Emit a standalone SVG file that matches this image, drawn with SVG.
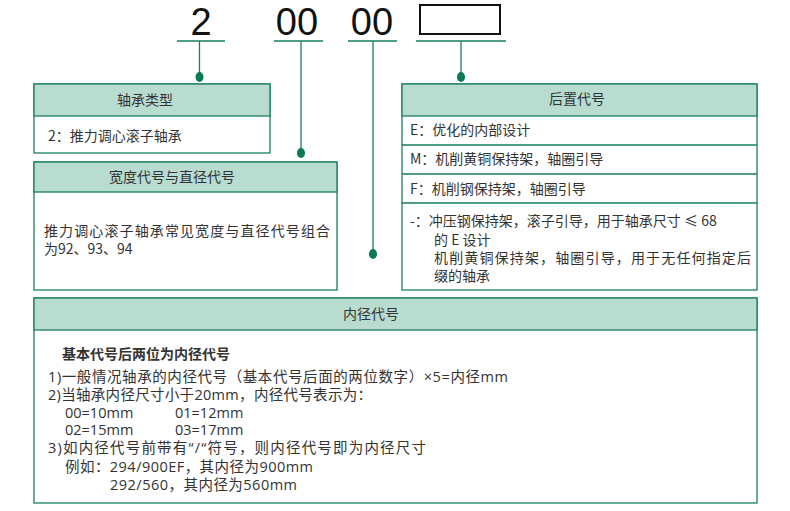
<svg xmlns="http://www.w3.org/2000/svg" width="790" height="511" viewBox="0 0 790 511">
<style>
text{font-family:"Noto Sans CJK SC","Liberation Sans",sans-serif;fill:#333;font-size:14px}
.b{font-family:"Open Sans","Noto Sans CJK SC",sans-serif;font-size:14.5px}
.big{font-family:"Liberation Sans","Noto Sans CJK SC",sans-serif;font-size:38px;fill:#111}
.box{fill:#fff;stroke:#17805e;stroke-width:1.3}
.hd{fill:#b9dcd0;stroke:#17805e;stroke-width:1.3}
.ln{stroke:#17805e;stroke-width:1.3;fill:none}
.dot{fill:#0b7a55}
.c{text-anchor:middle}
</style>
<g id="codes">
<text class="big c" x="201" y="35">2</text>
<text class="big c" x="297" y="35">00</text>
<text class="big c" x="372" y="35">00</text>
<rect x="420" y="5" width="80" height="29" fill="#fff" stroke="#111" stroke-width="2"/>
</g>
<g id="connectors">
<path class="ln" d="M177 41H225M274 41H323M348 41H397M416 41H506M199.5 41V77M301 41V153M373 41V254M461 41V77"/>
<ellipse class="dot" cx="199.5" cy="77" rx="4" ry="5"/>
<ellipse class="dot" cx="301" cy="153" rx="4" ry="5"/>
<ellipse class="dot" cx="373" cy="254" rx="4" ry="5"/>
<ellipse class="dot" cx="461" cy="77" rx="4" ry="5"/>
</g>
<g id="type">
<rect class="box" x="34" y="84" width="236" height="69"/>
<rect class="hd" x="34" y="84" width="236" height="32"/>
<text class="c" x="145" y="105">轴承类型</text>
<text x="48" y="141">2：推力调心滚子轴承</text>
</g>
<g id="width">
<rect class="box" x="34" y="162" width="303" height="128"/>
<rect class="hd" x="34" y="162" width="303" height="30"/>
<text class="c" x="172" y="182">宽度代号与直径代号</text>
<text x="44" y="236" textLength="286">推力调心滚子轴承常见宽度与直径代号组合</text>
<text x="44" y="254">为92、93、94</text>
</g>
<g id="suffix">
<rect class="box" x="402" y="84" width="355" height="206"/>
<rect class="hd" x="402" y="84" width="355" height="32"/>
<path class="ln" d="M402 145H757M402 174H757M402 203H757"/>
<text class="c" x="577" y="104">后置代号</text>
<text x="410" y="135">E：优化的内部设计</text>
<text x="410" y="164">M：机削黄铜保持架，轴圈引导</text>
<text x="410" y="194">F：机削钢保持架，轴圈引导</text>
<text x="410" y="226">-：冲压钢保持架，滚子引导，用于轴承尺寸 ≤ 68</text>
<text x="434" y="245">的 E 设计</text>
<text x="434" y="263" textLength="317">机削黄铜保持架，轴圈引导，用于无任何指定后</text>
<text x="434" y="281">缀的轴承</text>
</g>
<g id="bore">
<rect class="box" x="34" y="298" width="723" height="205"/>
<rect class="hd" x="34" y="298" width="723" height="32"/>
<text class="c" x="371" y="319">内径代号</text>
<text x="62" y="359" font-weight="bold" font-size="15">基本代号后两位为内径代号</text>
<text class="b" x="48" y="382" textLength="460">1)一般情况轴承的内径代号（基本代号后面的两位数字）×5=内径mm</text>
<text class="b" x="48" y="400" textLength="324">2)当轴承内径尺寸小于20mm，内径代号表示为：</text>
<text class="b" x="65" y="418">00=10mm</text>
<text class="b" x="175" y="418">01=12mm</text>
<text class="b" x="65" y="435">02=15mm</text>
<text class="b" x="175" y="435">03=17mm</text>
<text class="b" x="48" y="453" textLength="378">3)如内径代号前带有“/“符号，则内径代号即为内径尺寸</text>
<text class="b" x="65" y="472" textLength="248">例如：294/900EF，其内径为900mm</text>
<text class="b" x="110" y="490" textLength="187">292/560，其内径为560mm</text>
</g>
</svg>
